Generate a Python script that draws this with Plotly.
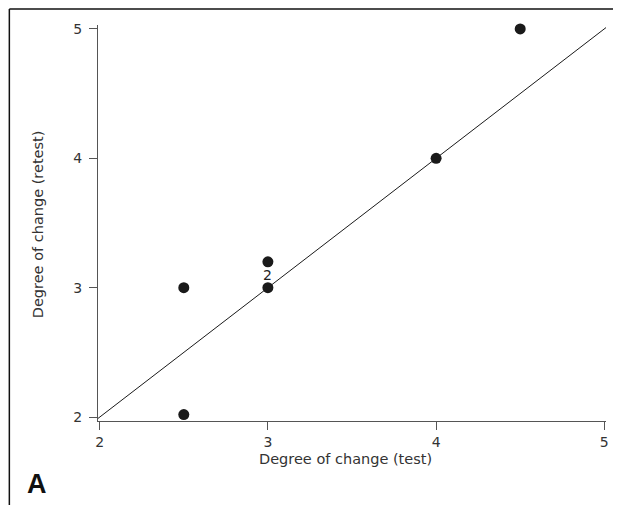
import plotly.graph_objects as go

test_x = [2.5, 2.5, 3.0, 3.0, 4.0, 4.5]
retest_y = [2.02, 3.0, 3.2, 3.0, 4.0, 5.0]
ref_line = [1.97, 5.03]
x_ticks = [2, 3, 4, 5]
y_ticks = [2, 3, 4, 5]

OFF = 8  # default page body margin
W, H = 621 - OFF, 505 - OFF
L, T = 98 - OFF, 25 - OFF
R = W - (608 - OFF)
B = H - (421 - OFF)
pw, ph = W - L - R, H - T - B

def px(xpage):
    return (xpage - OFF - L) / pw

def py(ypage):
    return (H - B - (ypage - OFF)) / ph

FONT = "DejaVu Sans"
fig = go.Figure()
fig.add_trace(go.Scatter(x=ref_line, y=ref_line, mode="lines",
                         line=dict(color="#1a1a1a", width=1), showlegend=False,
                         hoverinfo="skip"))
fig.add_trace(go.Scatter(x=test_x, y=retest_y, mode="markers",
                         marker=dict(color="#1a1a1a", size=11), showlegend=False,
                         cliponaxis=False))

fig.add_annotation(x=3.0, y=3.1, text="2", showarrow=False,
                   font=dict(size=14, color="#222", family=FONT))

fnt = dict(family=FONT, size=14, color="#333")
tfnt = dict(family=FONT, size=14.5, color="#333")
fig.update_xaxes(range=[1.99, 5.01], tickvals=x_ticks, showline=True, linecolor="#555",
                 linewidth=1, ticks="outside", ticklen=8, tickcolor="#555",
                 showgrid=False, zeroline=False, tickfont=fnt)
fig.update_yaxes(range=[1.97, 5.03], tickvals=y_ticks, showline=True, linecolor="#555",
                 linewidth=1, ticks="outside", ticklen=8, tickcolor="#555",
                 showgrid=False, zeroline=False, tickfont=fnt, ticklabelstandoff=4)

fig.add_annotation(xref="paper", yref="paper", x=px(38), y=py(224), text="Degree of change (retest)",
                   textangle=-90, showarrow=False, font=tfnt, xanchor="center", yanchor="middle")
fig.add_annotation(xref="paper", yref="paper", x=px(346), y=py(459), text="Degree of change (test)",
                   showarrow=False, font=tfnt, xanchor="center", yanchor="middle")
fig.add_annotation(xref="paper", yref="paper", x=px(37), y=py(484), text="<b>A</b>",
                   showarrow=False, font=dict(family="Liberation Sans", size=27, color="#111"),
                   xanchor="center", yanchor="middle")

fig.add_shape(type="line", xref="paper", yref="paper", x0=px(9), x1=px(621), y0=py(9), y1=py(9),
              line=dict(color="#111", width=1.5))
fig.add_shape(type="line", xref="paper", yref="paper", x0=px(9), x1=px(9), y0=py(9), y1=py(505),
              line=dict(color="#111", width=1.5))

fig.update_layout(width=W, height=H, margin=dict(l=L, r=R, t=T, b=B),
                  plot_bgcolor="white", paper_bgcolor="white")
fig.write_html("out.html")
